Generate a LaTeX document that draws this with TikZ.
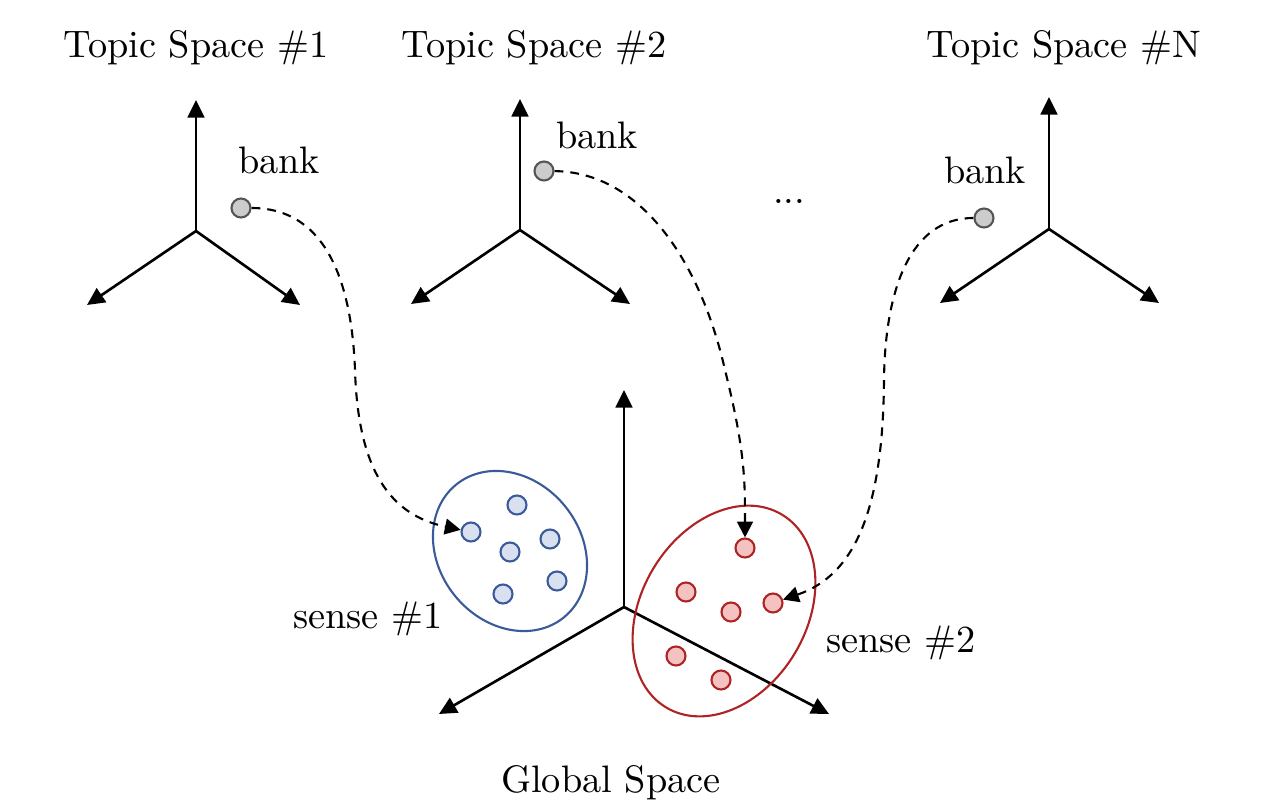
\documentclass[tikz,border=0pt]{standalone}
\usetikzlibrary{arrows.meta,shapes.geometric}
\definecolor{bluedge}{HTML}{3B5A9A}
\definecolor{bluefill}{HTML}{D9E0F0}
\definecolor{rededge}{HTML}{AE2424}
\definecolor{redfill}{HTML}{F5C2C2}
\definecolor{grayfill}{HTML}{CCCCCC}
\definecolor{grayedge}{HTML}{555555}
\begin{document}
\begin{tikzpicture}[x=0.02cm,y=-0.02cm,
  axis/.style={line width=1.5pt,-{Triangle[length=10pt,width=9.5pt]}},
  link/.style={line width=1.2pt,dash pattern=on 5pt off 4pt,-{Triangle[length=9pt,width=9pt]}},
  lbl/.style={scale=2.18,inner sep=0pt,anchor=base},
  bankpt/.style={circle,draw=grayedge,fill=grayfill,line width=1.2pt,minimum size=0.38cm,inner sep=0pt},
  bluept/.style={circle,draw=bluedge,fill=bluefill,line width=1.2pt,minimum size=0.38cm,inner sep=0pt},
  redpt/.style={circle,draw=rededge,fill=redfill,line width=1.2pt,minimum size=0.38cm,inner sep=0pt},
  cluster/.style={ellipse,draw=#1,line width=1.2pt,inner sep=0pt}
]
\useasboundingbox (0,0) rectangle (1286,812);

% titles
\node[lbl] (t1) at (196,57) {Topic Space \#1};
\node[lbl] (t2) at (534,57) {Topic Space \#2};
\node[lbl] (tN) at (1064,57) {Topic Space \#N};
\node[lbl] (dots) at (789,203) {...};

% topic space 1
\coordinate (o1) at (196,231);
\coordinate (u1) at (196,100);
\coordinate (l1) at (87,305);
\coordinate (r1) at (300,305);
\draw[axis] (o1) -- (u1);
\draw[axis] (o1) -- (l1);
\draw[axis] (o1) -- (r1);

% topic space 2
\coordinate (o2) at (520,230);
\coordinate (u2) at (520,99);
\coordinate (l2) at (411,304);
\coordinate (r2) at (630,304);
\draw[axis] (o2) -- (u2);
\draw[axis] (o2) -- (l2);
\draw[axis] (o2) -- (r2);

% topic space N
\coordinate (oN) at (1049,229);
\coordinate (uN) at (1049,97);
\coordinate (lN) at (940,303);
\coordinate (rN) at (1159,303);
\draw[axis] (oN) -- (uN);
\draw[axis] (oN) -- (lN);
\draw[axis] (oN) -- (rN);

% global space
\coordinate (og) at (624,607);
\coordinate (ug) at (624,390);
\coordinate (lg) at (439,714);
\coordinate (rg) at (829,714);
\draw[axis] (og) -- (ug);
\draw[axis] (og) -- (lg);
\draw[axis] (og) -- (rg);

% bank labels and points
\node[lbl] (bl1) at (279,173) {bank};
\node[lbl] (bl2) at (597,148) {bank};
\node[lbl] (blN) at (985,183) {bank};
\node[bankpt] (b1) at (241,208) {};
\node[bankpt] (b2) at (544,171) {};
\node[bankpt] (bN) at (984,218) {};

% clusters
\node[cluster=bluedge,minimum width=3.42cm,minimum height=2.84cm,rotate=-51] (E1) at (510,551) {};
\node[cluster=rededge,minimum width=4.5cm,minimum height=3.3cm,rotate=59] (E2) at (724,611) {};

\node[bluept] (s1a) at (471,532) {};
\node[bluept] (s1b) at (517,505) {};
\node[bluept] (s1c) at (550,539) {};
\node[bluept] (s1d) at (510,552) {};
\node[bluept] (s1e) at (557,581) {};
\node[bluept] (s1f) at (503,594) {};

\node[redpt] (s2a) at (745,548) {};
\node[redpt] (s2b) at (686,592) {};
\node[redpt] (s2c) at (731,612) {};
\node[redpt] (s2d) at (773,603) {};
\node[redpt] (s2e) at (676,656) {};
\node[redpt] (s2f) at (721,680) {};

\node[lbl] (sl1) at (368,628) {sense \#1};
\node[lbl] (sl2) at (901,652) {sense \#2};
\node[lbl] (gl) at (611,792) {Global Space};

% links
\draw[link] (b1) .. controls (330,208) and (352,290) .. (355,370)
                 .. controls (358,470) and (390,515) .. (s1a);
\draw[link] (b2) .. controls (640,172) and (700,260) .. (725,370)
                 .. controls (745,450) and (745,480) .. (s2a);
\draw[link] (bN) .. controls (910,218) and (885,290) .. (884,380)
                 .. controls (883,510) and (855,575) .. (s2d);
\end{tikzpicture}
\end{document}
